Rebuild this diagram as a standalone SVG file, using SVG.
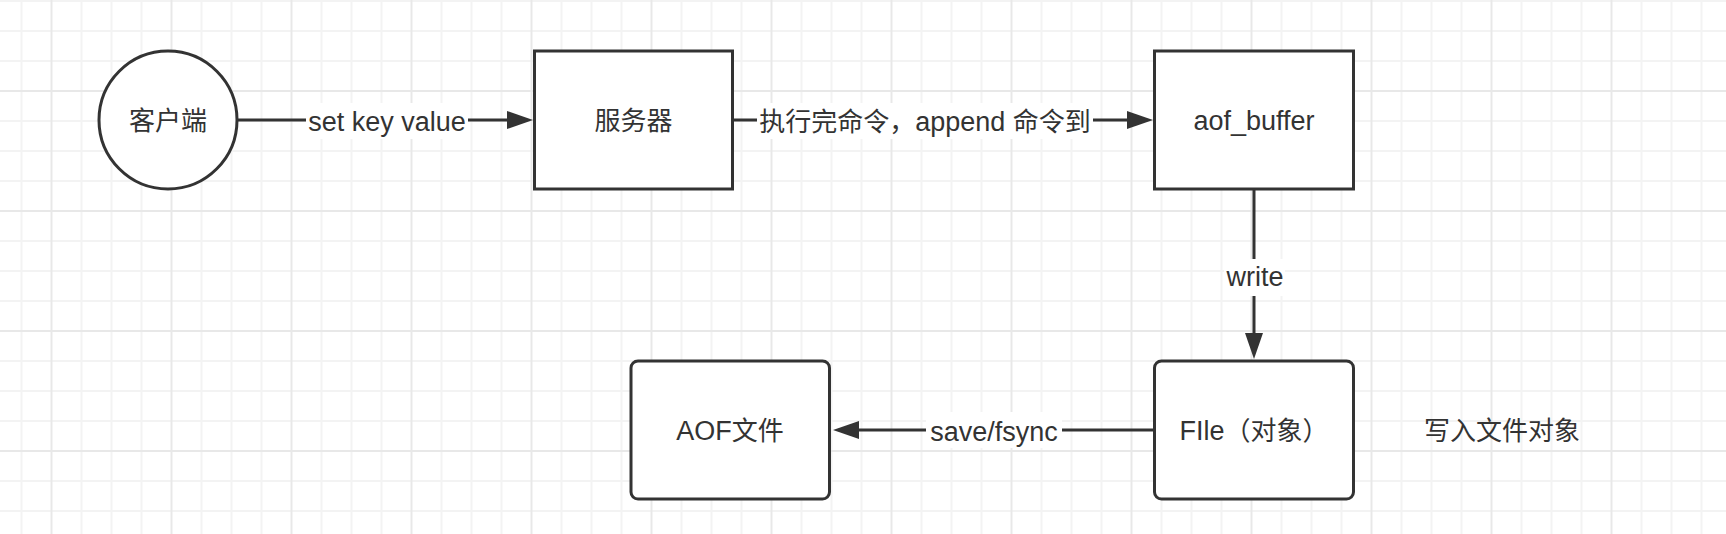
<svg xmlns="http://www.w3.org/2000/svg" width="1726" height="534" viewBox="0 0 1726 534">
  <defs>
    <pattern id="grid" patternUnits="userSpaceOnUse" x="-23.5" y="16" width="120" height="120">
      <g stroke="#f3f3f3" stroke-width="2" fill="none">
        <line x1="15" y1="0" x2="15" y2="120"/>
        <line x1="45" y1="0" x2="45" y2="120"/>
        <line x1="105" y1="0" x2="105" y2="120"/>
        <line x1="0" y1="15" x2="120" y2="15"/>
        <line x1="0" y1="45" x2="120" y2="45"/>
        <line x1="0" y1="105" x2="120" y2="105"/>
      </g>
      <g stroke="#e8e8e8" stroke-width="2" fill="none">
        <line x1="75" y1="0" x2="75" y2="120"/>
        <line x1="0" y1="75" x2="120" y2="75"/>
      </g>
    </pattern>
    <marker id="arrow" markerUnits="userSpaceOnUse" viewBox="0 -9 26 18" refX="2" refY="0" markerWidth="26" markerHeight="18" orient="auto">
      <path d="M0,-9 L26,0 L0,9 Z" fill="#333333"/>
    </marker>
    <style>
      .shape { fill: #ffffff; stroke: #333333; stroke-width: 3; }
      .edge { fill: none; stroke: #333333; stroke-width: 3; }
      .lbl { font-family: "Liberation Sans", "Noto Sans CJK SC", sans-serif; font-size: 27px; fill: #333333; text-anchor: middle; }
      .cjk { font-size: 26px; }
      .lblbg { fill: #ffffff; stroke: none; }
    </style>
  </defs>

  <rect x="0" y="0" width="1726" height="534" fill="#ffffff"/>
  <rect x="0" y="0" width="1726" height="534" fill="url(#grid)"/>

  <g id="connectors">
    <g id="edge-client-server">
      <line class="edge" x1="237" y1="120" x2="509" y2="120" marker-end="url(#arrow)"/>
      <rect class="lblbg" x="306" y="103" width="162" height="36"/>
      <text class="lbl" x="387" y="131">set key value</text>
    </g>
    <g id="edge-server-buffer">
      <line class="edge" x1="733" y1="120" x2="1129" y2="120" marker-end="url(#arrow)"/>
      <rect class="lblbg" x="757" y="103" width="336" height="36"/>
      <text class="lbl" x="925" y="131"><tspan class="cjk">执行完命令，</tspan>append <tspan class="cjk">命令到</tspan></text>
    </g>
    <g id="edge-buffer-file">
      <line class="edge" x1="1254" y1="189" x2="1254" y2="335" marker-end="url(#arrow)"/>
      <rect class="lblbg" x="1224" y="259" width="61" height="37"/>
      <text class="lbl" x="1255" y="286">write</text>
    </g>
    <g id="edge-file-aof">
      <line class="edge" x1="1154" y1="430" x2="857" y2="430" marker-end="url(#arrow)"/>
      <rect class="lblbg" x="926" y="412" width="136" height="36"/>
      <text class="lbl" x="994" y="441">save/fsync</text>
    </g>
  </g>

  <g id="node-client">
    <circle class="shape" cx="168" cy="120" r="69"/>
    <text class="lbl cjk" x="168" y="130">客户端</text>
  </g>

  <g id="node-server">
    <rect class="shape" x="534.5" y="51" width="198" height="138"/>
    <text class="lbl cjk" x="633.5" y="130">服务器</text>
  </g>

  <g id="node-aof-buffer">
    <rect class="shape" x="1154.5" y="51" width="199" height="138"/>
    <text class="lbl" x="1254" y="130">aof_buffer</text>
  </g>

  <g id="node-file">
    <rect class="shape" x="1154.5" y="361" width="199" height="138" rx="7" ry="7"/>
    <text class="lbl" x="1254" y="440">FIle<tspan class="cjk">（对象）</tspan></text>
  </g>

  <g id="node-aof-file">
    <rect class="shape" x="631" y="361" width="198.5" height="138" rx="7" ry="7"/>
    <text class="lbl" x="730" y="440">AOF<tspan class="cjk">文件</tspan></text>
  </g>

  <g id="note-write-file">
    <text class="lbl cjk" x="1502" y="440">写入文件对象</text>
  </g>
</svg>
